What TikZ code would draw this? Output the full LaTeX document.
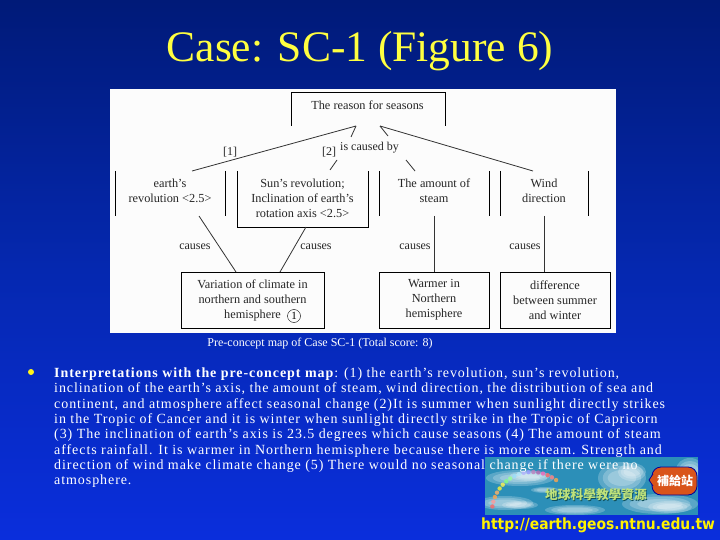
\documentclass[tikz,border=0pt]{standalone}
\usepackage{fontspec}
\setmainfont{Liberation Serif}
\newfontfamily\bodyfont[LetterSpace=6.6,Ligatures=TeX]{Liberation Serif}
\newfontfamily\urlfont{DejaVu Sans Condensed}
\newfontfamily\cjkfont{Noto Sans CJK TC}
\definecolor{slidetop}{HTML}{001A78}
\definecolor{slidemid}{HTML}{0528B0}
\definecolor{slidelow}{HTML}{0A2EDC}
\definecolor{titleyellow}{HTML}{FFFF40}
\definecolor{skyblue}{HTML}{2C8FB8}
\definecolor{badgered}{HTML}{D9541A}
\definecolor{logogreen}{HTML}{BFE27A}
\definecolor{logoshade}{HTML}{0E4F5C}
\begin{document}
\begin{tikzpicture}[
    x=1pt, y=-1pt,
    concept/.style={font=\fontsize{12.3}{15}\selectfont, align=center, text=black!85, inner sep=0pt},
    fullbox/.style={concept, draw=black, thick, minimum height=56pt},
    bar/.style={draw=black, thick},
    link/.style={draw=black!80, thick},
    linklabel/.style={font=\fontsize{12}{13}\selectfont, text=black!85, inner sep=0pt},
    bodyline/.style={font=\bodyfont\fontsize{14}{15.35}\selectfont, text=white, align=left, anchor=north west, inner sep=0pt},
    cloud/.style={fill=white, opacity=0.22},
]
\useasboundingbox (0,0) rectangle (720,540);
\clip (0,0) rectangle (720,540);
\shade[top color=slidetop, bottom color=slidelow, middle color=slidemid] (0,0) rectangle (720,540);
% title and picture panel
\node[font=\fontsize{43.5}{48}\selectfont, text=titleyellow, inner sep=0pt] (title) at (360,51) {Case: SC-1 (Figure 6)};
\fill[white!99!black] (110,89) rectangle (616,333);
\node[concept, inner sep=0pt] (reason) at (367.5,105) {The reason for seasons};
\draw[bar] (291,126) -- (291,92) -- (445,92) -- (445,126);
% upper row
\node[concept] (earth) at (170,190.5) {earth's\\revolution <2.5>};
\draw[bar] (115,171) -- (115,216) (225,171) -- (225,216);
\node[concept] (sun) at (302.5,198) {Sun's revolution;\\Inclination of earth's\\rotation axis <2.5>};
\draw[bar] (237,171) -- (237,227) -- (368,227) -- (368,171);
\node[concept] (steam) at (434,190.5) {The amount of\\steam};
\draw[bar] (379,171) -- (379,216) (489,171) -- (489,216);
\node[concept] (wind) at (544,190.5) {Wind\\direction};
\draw[bar] (500,171) -- (500,216) (588,171) -- (588,216);
% lower row
\node[fullbox, minimum width=143pt] (variation) at (252.5,300) {Variation of climate in\\northern and southern\\hemisphere};
\node[fullbox, minimum width=110pt] (warmer) at (434,300) {Warmer in\\Northern\\hemisphere};
\node[fullbox, minimum width=110pt] (difference) at (555,300) {difference\\between summer\\and winter};
\node[draw=black, circle, inner sep=0pt, minimum size=13pt, font=\fontsize{11}{13}\selectfont] (one) at (294,316) {1};
% link ends
\coordinate (apexl) at (356,126);
\coordinate (apexr) at (380,126);
\coordinate (earthtop) at (192,171);
\coordinate (suntop) at (330,170);
\coordinate (steamtop) at (415,171);
\coordinate (windtop) at (533,171);
\coordinate (earthfoot) at (199,216);
\coordinate (sunfoot) at (306,227);
\coordinate (varl) at (236,272);
\coordinate (varr) at (280,272);
\coordinate (suncut) at (337,160);
\coordinate (apexcut) at (351,137);
\coordinate (rightcut) at (388,136);
\coordinate (steamcut) at (406,160);
\coordinate (steamfoot) at (434,216);
\coordinate (windfoot) at (544,216);
\coordinate (warmtop) at (434,272);
\coordinate (difftop) at (544,272);
\draw[link] (apexl) -- (earthtop);
\draw[link] (apexl) -- (apexcut);
\draw[link] (suncut) -- (suntop);
\draw[link] (apexr) -- (rightcut);
\draw[link] (steamcut) -- (steamtop);
\draw[link] (apexr) -- (windtop);
\draw[link] (earthfoot) -- (varl);
\draw[link] (sunfoot) -- (varr);
\draw[link] (steamfoot) -- (warmtop);
\draw[link] (windfoot) -- (difftop);
% labels on links
\node[linklabel] (lab1) at (230,152) {[1]};
\node[linklabel] (lab2) at (329,152) {[2]};
\node[linklabel, anchor=west] (causedby) at (340,148) {is caused by};
\node[linklabel] (causea) at (195,247) {causes};
\node[linklabel] (causeb) at (316,247) {causes};
\node[linklabel] (causec) at (415,247) {causes};
\node[linklabel] (caused) at (525,247) {causes};
% caption
\node[font=\fontsize{12}{13}\selectfont, text=white, inner sep=0pt] (caption) at (320,344) {Pre-concept map of Case SC-1 (Total score: 8)};
% logo
\fill[skyblue] (485,457) rectangle (698,515);
\begin{scope}
\clip (485,457) rectangle (698,515);
\foreach \cx/\cy/\rx/\ry in {520/478/34/8, 530/476/20/5, 505/503/28/7, 520/505/18/4, 622/478/24/16, 632/472/14/9, 660/504/38/10, 670/507/22/6, 575/510/30/5, 545/490/14/3, 690/470/14/12} {
    \fill[cloud] (\cx,\cy) ellipse (\rx pt and \ry pt);
    \fill[cloud] (\cx,\cy) ellipse (0.8*\rx pt and 0.75*\ry pt);
    \fill[cloud] (\cx,\cy) ellipse (0.6*\rx pt and 0.5*\ry pt);
}
\end{scope}
\foreach \ang/\col in {172/red!60, 165/red!40, 158/orange!70, 151/orange!60, 144/yellow!80, 137/yellow!70, 130/green!50, 123/green!40, 116/cyan!40, 109/cyan!30, 102/blue!30, 95/blue!40, 88/violet!50, 81/violet!60, 74/magenta!60, 67/red!60, 60/red!50, 53/orange!70} {
    \fill[\col, opacity=0.8] ({532+40*cos(\ang)},{512-40*sin(\ang)}) circle (2.2);
}
\fill[badgered, draw=blue!60!black, thick, rounded corners=9pt] (652,467) rectangle (697,495);
\fill[badgered, draw=blue!60!black, thick] (653,474) -- (649,480) -- (653,486);
\node[inner sep=0pt, font=\cjkfont\bfseries\fontsize{12}{12}\selectfont, text=white] (badge) at (675,481) {補給站};
\node[font=\cjkfont\bfseries\fontsize{12.7}{13}\selectfont, text=logoshade, inner sep=0pt] (logoback) at (596.8,495.8) {地球科學教學資源};
\node[font=\cjkfont\bfseries\fontsize{12.7}{13}\selectfont, text=logogreen, inner sep=0pt] (logotext) at (596,495) {地球科學教學資源};
\node[font=\urlfont\bfseries\fontsize{15.4}{19}\selectfont, text=yellow, anchor=west, inner sep=0pt] (url) at (481,525) {http://earth.geos.ntnu.edu.tw};
% bullet text
\node[circle, fill=yellow!90!white, minimum size=6pt, inner sep=0pt] (bullet) at (31,372) {};
\node[bodyline] (interp) at (54,367.5) {\textbf{Interpretations with the pre-concept map}: (1) the earth's revolution, sun's revolution,\\
inclination of the earth's axis, the amount of steam, wind direction, the distribution of sea and\\
continent, and atmosphere affect seasonal change (2)It is summer when sunlight directly strikes\\
in the Tropic of Cancer and it is winter when sunlight directly strike in the Tropic of Capricorn\\
(3) The inclination of earth's axis is 23.5 degrees which cause seasons (4) The amount of steam\\
affects rainfall. It is warmer in Northern hemisphere because there is more steam. Strength and\\
direction of wind make climate change (5) There would no seasonal change if there were no\\
atmosphere.};
\end{tikzpicture}
\end{document}
